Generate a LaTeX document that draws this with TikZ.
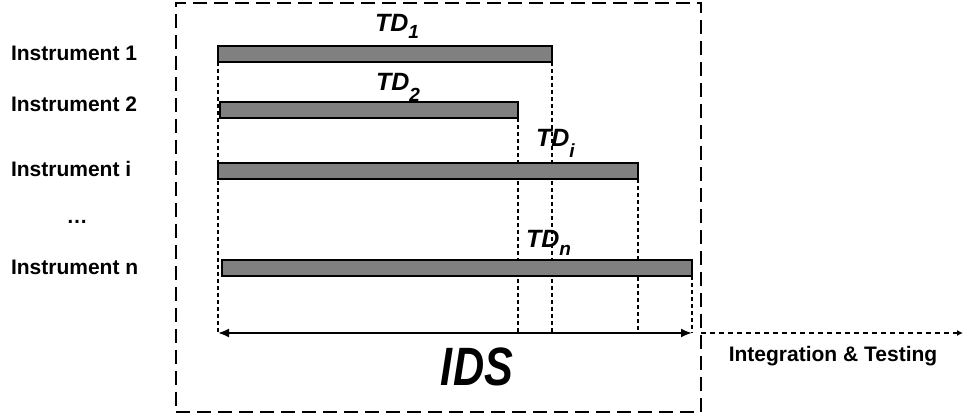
\documentclass[tikz,border=0pt]{standalone}
\usepackage{fontspec}
\setmainfont{Liberation Sans}
\usetikzlibrary{arrows.meta,backgrounds}

\definecolor{custcol_bar}{RGB}{128,128,128}

% label TD with a lowered subscript (text, drop)
\newcommand{\tdname}[2]{TD\raisebox{-#2pt}{\fontsize{19pt}{19pt}\selectfont #1}}

\begin{document}
\begin{tikzpicture}[x=1pt,y=-1pt,
  instr/.style={inner sep=0, outer sep=0, anchor=base west, font=\fontsize{21pt}{21pt}\selectfont\bfseries},
  tdlabel/.style={inner sep=0, outer sep=0, anchor=base west, font=\fontsize{25pt}{25pt}\selectfont\bfseries\itshape},
  bar/.style={draw, line width=1.2pt, fill=custcol_bar, anchor=north west, minimum height=16pt, inner sep=0, outer sep=0},
  guide/.style={line width=1.2pt, dash pattern=on 4pt off 3pt},
  idsarrow/.style={line width=2pt, arrows={Latex[length=11pt,width=9pt]-Latex[length=11pt,width=9pt]}},
  itarrow/.style={line width=1.5pt, dash pattern=on 5pt off 4pt, arrows={-Latex[length=6pt,width=6pt]}},
  ]
\useasboundingbox (0,0) rectangle (964,419);
\node[draw, line width=2pt, dash pattern=on 14pt off 7pt, minimum width=525pt, minimum height=409pt, inner sep=0, outer sep=0] (idsbox) at (438.5,207.5) {};
% instruments
\node[instr] (instr1) at (11,61) {Instrument 1};
\node[instr] (instr2) at (11,112) {Instrument 2};
\node[instr] (instri) at (11,177) {Instrument i};
\node[instr, anchor=base] (dots) at (77,224) {…};
\node[instr] (instrn) at (11,275) {Instrument n};
% bars
\node[bar, minimum width=334pt] (bar1) at (218,46) {};
\node[bar, minimum width=298pt] (bar2) at (220,102) {};
\node[bar, minimum width=420pt] (bari) at (218,163) {};
\node[bar, minimum width=470pt] (barn) at (222,260) {};
\node[tdlabel] (td1) at (375,32) {\tdname{1}{7}};
\node[tdlabel] (td2) at (376,91) {\tdname{2}{11}};
\node[tdlabel] (tdi) at (536,147) {\tdname{i}{11}};
\node[tdlabel] (tdn) at (526,248) {\tdname{n}{8}};
\coordinate (idsL) at (218,333);
\coordinate (idsR) at (692,333);
\coordinate (itEnd) at (963,333);
\begin{scope}[on background layer]
\draw[guide] (bar1.south west) -- (bar1.south west |- idsL);
\draw[guide] (bar1.south east) -- (bar1.south east |- idsL);
\draw[guide] (bar2.south east) -- (bar2.south east |- idsL);
\draw[guide] (bari.south east) -- (bari.south east |- idsL);
\draw[guide] (barn.south east) -- (barn.south east |- idsL);
\end{scope}
\draw[idsarrow] (idsL) -- (idsR);
\draw[itarrow] (idsbox.east |- idsR) -- (itEnd);
\node[inner sep=0, anchor=base, font=\fontsize{54pt}{54pt}\selectfont\bfseries\itshape] (ids) at (477,386) {\scalebox{0.8}[1]{IDS}};
\node[instr, anchor=base] (itest) at (833,362) {Integration \& Testing};
\end{tikzpicture}
\end{document}
